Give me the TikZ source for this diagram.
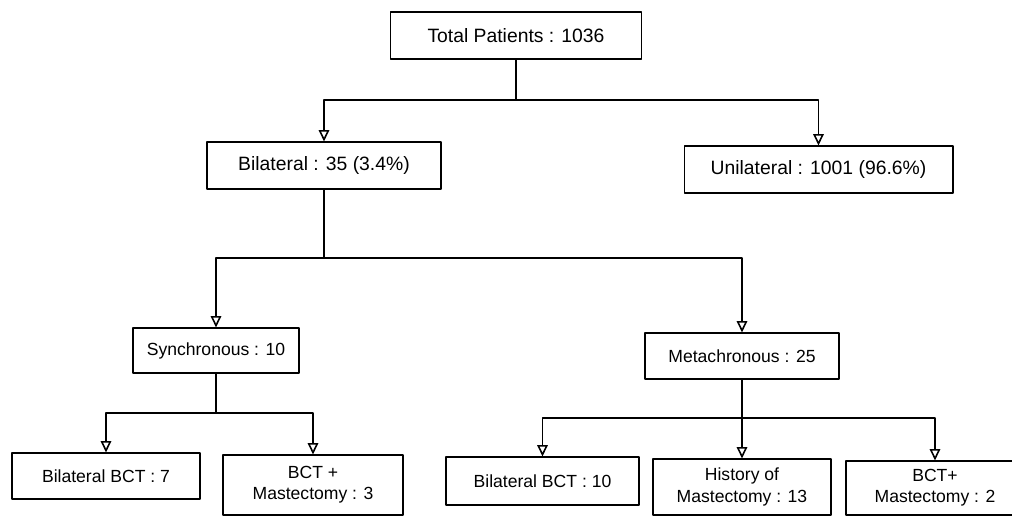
\documentclass[tikz,border=0pt]{standalone}
\usepackage{fontspec}
\setmainfont{Liberation Sans}
\usetikzlibrary{arrows.meta}
\begin{document}
\begin{tikzpicture}[x=0.02cm,y=-0.02cm,line cap=round,line join=round,
    >={Triangle[open,length=6.5pt,width=6pt,line width=0.9pt]},
    box/.style={draw,line width=0.6pt,inner sep=2pt,align=center},
    bigbox/.style={box,font=\fontsize{11}{13}\selectfont,minimum height=0.94cm},
    smallbox/.style={box,font=\fontsize{10}{12}\selectfont},
    link/.style={line width=0.7pt}]
  \useasboundingbox (0,0) rectangle (1012,516);
  \clip (0,0) rectangle (1012,516);
  % first level
  \node[bigbox,minimum width=5.02cm] (total) at (516,35.5) {Total Patients : 1036};
  \node[bigbox,minimum width=4.68cm] (bil) at (324,165.5) {Bilateral : 35 (3.4\%)};
  \node[bigbox,minimum width=5.38cm] (uni) at (818.5,169.5) {Unilateral : 1001 (96.6\%)};
  % second level
  \node[smallbox,minimum width=3.32cm,minimum height=0.9cm] (syn) at (216,350.5) {Synchronous : 10};
  \node[smallbox,minimum width=3.88cm,minimum height=0.92cm] (meta) at (742,356) {Metachronous : 25};
  % third level
  \node[smallbox,minimum width=3.76cm,minimum height=0.92cm] (bct7) at (106,476) {Bilateral BCT : 7};
  \node[smallbox,minimum width=3.6cm,minimum height=1.2cm] (bctm3) at (313,485) {BCT +\\Mastectomy : 3};
  \node[smallbox,minimum width=3.86cm,minimum height=0.96cm] (bct10) at (542.5,481) {Bilateral BCT : 10};
  \node[smallbox,minimum width=3.56cm,minimum height=1.12cm] (hist) at (742,487) {History of\\Mastectomy : 13};
  \node[smallbox,minimum width=3.56cm,minimum height=1.08cm] (bctm2) at (935,488) {BCT+\\Mastectomy : 2};
  % junctions
  \coordinate (tj) at (516,100);
  \coordinate (bj) at (324,258);
  \coordinate (sj) at (216,413);
  \coordinate (mj) at (742,418);
  \draw[link] (total) -- (tj);
  \draw[link,->] (tj) -| (bil);
  \draw[link,->] (tj) -| (uni);
  \draw[link] (bil) -- (bj);
  \draw[link,->] (bj) -| (syn);
  \draw[link,->] (bj) -| (meta);
  \draw[link] (syn) -- (sj);
  \draw[link,->] (sj) -| (bct7);
  \draw[link,->] (sj) -| (bctm3);
  \draw[link] (meta) -- (mj);
  \draw[link,->] (mj) -| (bct10);
  \draw[link,->] (mj) -- (hist);
  \draw[link,->] (mj) -| (bctm2);
\end{tikzpicture}
\end{document}
